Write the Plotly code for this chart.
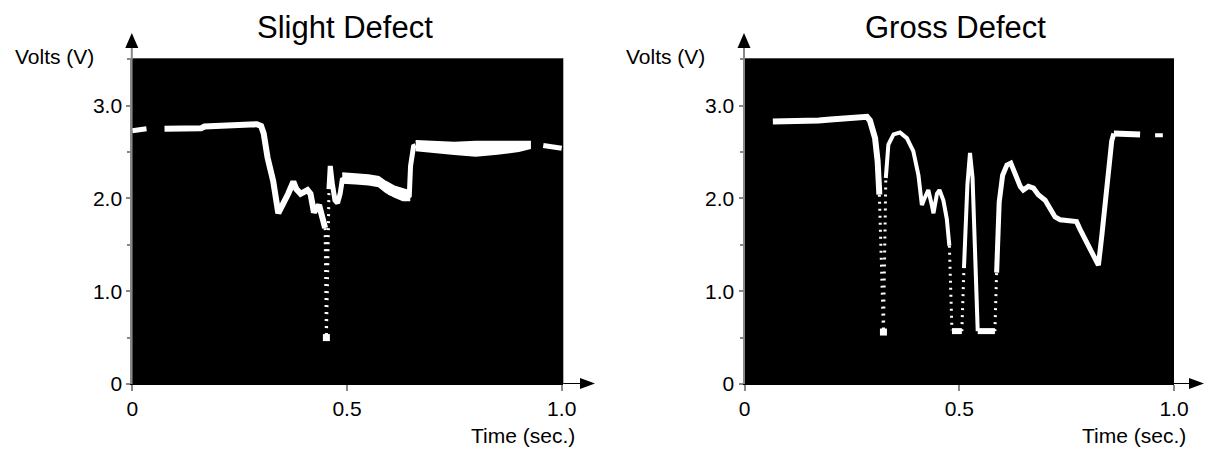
import plotly.graph_objects as go

W, H = 1205, 449

# ---------------- data: Slight Defect ----------------
sl_a_t = [0.0, 0.033]
sl_a_v = [2.73, 2.75]

sl_b_t = [0.075, 0.12, 0.16, 0.168, 0.22, 0.26, 0.29, 0.30, 0.306, 0.315, 0.328, 0.340,
          0.350, 0.363, 0.375, 0.382, 0.392, 0.408, 0.415, 0.423, 0.435, 0.443, 0.449]
sl_b_v = [2.75, 2.75, 2.755, 2.775, 2.78, 2.79, 2.80, 2.78, 2.70, 2.44, 2.19, 1.84,
          1.92, 2.05, 2.18, 2.10, 2.05, 2.09, 2.05, 1.85, 1.93, 1.80, 1.68]

sl_dot_t = [0.449, 0.4505, 0.452, 0.455, 0.458]
sl_dot_v = [1.68, 1.00, 0.50, 1.20, 2.10]

sl_c_t = [0.458, 0.461, 0.466, 0.472, 0.478, 0.484, 0.489, 0.50, 0.52, 0.55, 0.57, 0.58,
          0.60, 0.62, 0.636, 0.645, 0.648, 0.655, 0.66]
sl_c_v = [2.10, 2.35, 2.15, 1.98, 1.95, 2.05, 2.20, 2.22, 2.21, 2.20, 2.19, 2.14,
          2.06, 2.03, 2.00, 2.03, 2.35, 2.56, 2.57]

sl_band2_t = [0.489, 0.52, 0.55, 0.574, 0.59, 0.61, 0.63, 0.645]
sl_band2_hi = [2.27, 2.26, 2.25, 2.23, 2.18, 2.13, 2.10, 2.08]
sl_band2_lo = [2.17, 2.16, 2.15, 2.13, 2.07, 2.02, 1.98, 1.98]

sl_band_t = [0.66, 0.70, 0.75, 0.80, 0.85, 0.90, 0.926]
sl_band_hi = [2.62, 2.61, 2.60, 2.61, 2.61, 2.61, 2.61]
sl_band_lo = [2.52, 2.50, 2.48, 2.46, 2.48, 2.51, 2.54]

sl_d_t = [0.957, 1.0]
sl_d_v = [2.57, 2.54]

sl_min_t = [0.452]
sl_min_v = [0.50]

# ---------------- data: Gross Defect ----------------
gr_a_t = [0.066, 0.10, 0.173, 0.20, 0.245, 0.277, 0.285, 0.292, 0.299, 0.304, 0.310, 0.314]
gr_a_v = [2.83, 2.83, 2.84, 2.85, 2.87, 2.89, 2.88, 2.84, 2.74, 2.65, 2.40, 2.04]

gr_d1_t = [0.314, 0.3235, 0.329]
gr_d1_v = [2.04, 0.56, 2.22]

gr_b_t = [0.329, 0.335, 0.347, 0.362, 0.378, 0.393, 0.405, 0.413, 0.419, 0.428, 0.436, 0.440,
          0.448, 0.454, 0.463, 0.471, 0.477]
gr_b_v = [2.22, 2.58, 2.69, 2.71, 2.65, 2.51, 2.25, 1.93, 2.00, 2.09, 1.93, 1.84,
          2.05, 2.09, 1.98, 1.78, 1.49]

gr_d2_t = [0.477, 0.483]
gr_d2_v = [1.49, 0.58]

gr_flat1_t = [0.483, 0.506]
gr_flat1_v = [0.57, 0.57]

gr_d3_t = [0.506, 0.511]
gr_d3_v = [0.57, 1.25]

gr_c_t = [0.511, 0.514, 0.519, 0.525, 0.531, 0.535, 0.539, 0.543]
gr_c_v = [1.25, 1.60, 2.15, 2.49, 2.22, 1.67, 1.16, 0.57]

gr_flat2_t = [0.543, 0.583]
gr_flat2_v = [0.57, 0.57]

gr_d4_t = [0.583, 0.587]
gr_d4_v = [0.57, 1.20]

gr_e_t = [0.587, 0.593, 0.601, 0.611, 0.620, 0.630, 0.642, 0.649, 0.661, 0.673, 0.684, 0.700,
          0.711, 0.723, 0.735, 0.750, 0.773, 0.781, 0.789, 0.800, 0.812, 0.824, 0.832,
          0.839, 0.847, 0.855, 0.860]
gr_e_v = [1.20, 1.96, 2.25, 2.36, 2.38, 2.27, 2.13, 2.09, 2.13, 2.11, 2.04, 1.98,
          1.89, 1.80, 1.77, 1.76, 1.75, 1.67, 1.60, 1.51, 1.40, 1.28, 1.60,
          1.93, 2.29, 2.62, 2.70]

gr_top_t = [0.860, 0.890, 0.921]
gr_top_v = [2.70, 2.70, 2.69]

gr_f_t = [0.956, 0.974]
gr_f_v = [2.68, 2.68]

gr_min_t = [0.3235]
gr_min_v = [0.56]

y_tick_vals = [0, 1, 2, 3]
y_tick_text = ["0", "1.0", "2.0", "3.0"]
y_minor_vals = [0.5, 1.5, 2.5, 3.5]
x_tick_vals = [0, 0.5, 1.0]
x_tick_text = ["0", "0.5", "1.0"]
titles = ["Slight Defect", "Gross Defect"]

FONT = "Arial, Liberation Sans, sans-serif"
WHITE = "white"

fig = go.Figure()


def solid(t, v, xa, ya, width=5):
    fig.add_trace(go.Scatter(x=t, y=v, mode="lines", xaxis=xa, yaxis=ya,
                             line=dict(color=WHITE, width=width), showlegend=False,
                             hoverinfo="skip"))


def dotted(t, v, xa, ya):
    fig.add_trace(go.Scatter(x=t, y=v, mode="lines", xaxis=xa, yaxis=ya,
                             line=dict(color=WHITE, width=3, dash="2px,5px"),
                             showlegend=False, hoverinfo="skip"))


def band(t, lo, hi, xa, ya):
    fig.add_trace(go.Scatter(x=t + t[::-1], y=hi + lo[::-1], mode="lines", fill="toself",
                             fillcolor=WHITE, line=dict(color=WHITE, width=2),
                             xaxis=xa, yaxis=ya, showlegend=False, hoverinfo="skip"))


def blob(t, v, xa, ya):
    fig.add_trace(go.Scatter(x=t, y=v, mode="markers", xaxis=xa, yaxis=ya,
                             marker=dict(color=WHITE, size=7, symbol="square"),
                             showlegend=False, hoverinfo="skip"))


# Slight defect (left)
solid(sl_a_t, sl_a_v, "x", "y", 5)
solid(sl_b_t, sl_b_v, "x", "y", 6)
dotted(sl_dot_t, sl_dot_v, "x", "y")
solid(sl_c_t, sl_c_v, "x", "y", 5)
band(sl_band2_t, sl_band2_lo, sl_band2_hi, "x", "y")
band(sl_band_t, sl_band_lo, sl_band_hi, "x", "y")
solid(sl_d_t, sl_d_v, "x", "y", 5)
blob(sl_min_t, sl_min_v, "x", "y")

# Gross defect (right)
solid(gr_a_t, gr_a_v, "x2", "y2", 6)
dotted(gr_d1_t, gr_d1_v, "x2", "y2")
solid(gr_b_t, gr_b_v, "x2", "y2", 4)
dotted(gr_d2_t, gr_d2_v, "x2", "y2")
solid(gr_flat1_t, gr_flat1_v, "x2", "y2", 6)
dotted(gr_d3_t, gr_d3_v, "x2", "y2")
solid(gr_c_t, gr_c_v, "x2", "y2", 4)
solid(gr_flat2_t, gr_flat2_v, "x2", "y2", 6)
dotted(gr_d4_t, gr_d4_v, "x2", "y2")
solid(gr_e_t, gr_e_v, "x2", "y2", 5)
solid(gr_top_t, gr_top_v, "x2", "y2", 6)
solid(gr_f_t, gr_f_v, "x2", "y2", 4)
blob(gr_min_t, gr_min_v, "x2", "y2")

# ---------------- layout ----------------
def px(x):
    return x / W


def py(y):
    return 1 - y / H


panels = [
    dict(x0=132.3, x1=563.3, xmax=1.0037, title_x=345, volts_x=54, time_r=577, arrow_x=595),
    dict(x0=744.5, x1=1174.0, xmax=1.0, title_x=955, volts_x=665, time_r=1188, arrow_x=1204),
]
top, bottom = 58.3, 384.0

axis_font = dict(family=FONT, size=21, color="black")
layout = dict(width=W, height=H, margin=dict(l=0, r=0, t=0, b=0, pad=0),
              paper_bgcolor="white", plot_bgcolor="black", showlegend=False,
              font=dict(family=FONT, color="black"))

shapes = []
annotations = []
for i, p in enumerate(panels):
    sx = "" if i == 0 else "2"
    layout["xaxis" + sx] = dict(domain=[px(p["x0"]), px(p["x1"])], range=[0, p["xmax"]],
                                anchor="y" + sx, showgrid=False, zeroline=False,
                                showline=True, linecolor="black", linewidth=1,
                                ticks="outside", ticklen=6, tickcolor="#888", tickwidth=2,
                                tickvals=x_tick_vals, ticktext=x_tick_text,
                                tickfont=axis_font, automargin=False, fixedrange=True)
    layout["yaxis" + sx] = dict(domain=[py(bottom), py(top)], range=[0, 3.51],
                                anchor="x" + sx, showgrid=False, zeroline=False,
                                showline=True, linecolor="#888", linewidth=2,
                                ticks="outside", ticklen=4, tickcolor="#888", tickwidth=1.5,
                                tickvals=y_tick_vals, ticktext=y_tick_text,
                                minor=dict(tickvals=y_minor_vals, ticks="outside", ticklen=3,
                                           tickcolor="#888", tickwidth=1.5),
                                tickfont=axis_font, automargin=False, fixedrange=True)
    ax = p["x0"] - 0.5
    # y axis extension + arrow
    shapes.append(dict(type="line", xref="paper", yref="paper", x0=px(ax), x1=px(ax),
                       y0=py(top), y1=py(47), line=dict(color="#888", width=2)))
    shapes.append(dict(type="path", xref="paper", yref="paper",
                       path=f"M {px(ax-6.5)} {py(48)} L {px(ax+6.5)} {py(48)} L {px(ax)} {py(33)} Z",
                       fillcolor="black", line=dict(width=0)))
    # x axis extension + arrow
    shapes.append(dict(type="line", xref="paper", yref="paper", x0=px(p["x1"]),
                       x1=px(p["arrow_x"] - 14), y0=py(bottom - 0.5), y1=py(bottom - 0.5),
                       line=dict(color="black", width=1)))
    shapes.append(dict(type="path", xref="paper", yref="paper",
                       path=(f"M {px(p['arrow_x']-15)} {py(bottom-6)} "
                             f"L {px(p['arrow_x'])} {py(bottom-0.5)} "
                             f"L {px(p['arrow_x']-15)} {py(bottom+5)} Z"),
                       fillcolor="black", line=dict(width=0)))
    annotations.append(dict(text=titles[i], xref="paper", yref="paper", x=px(p["title_x"]),
                            y=py(27), xanchor="center", yanchor="middle", showarrow=False,
                            font=dict(family=FONT, size=31, color="black")))
    annotations.append(dict(text="Volts (V)", xref="paper", yref="paper", x=px(p["volts_x"]),
                            y=py(56), xanchor="center", yanchor="middle", showarrow=False,
                            font=dict(family=FONT, size=21, color="black")))
    annotations.append(dict(text="Time (sec.)", xref="paper", yref="paper", x=px(p["time_r"]),
                            y=py(435), xanchor="right", yanchor="middle", showarrow=False,
                            font=dict(family=FONT, size=21, color="black")))

layout["shapes"] = shapes
layout["annotations"] = annotations
fig.update_layout(**layout)

fig.write_html("out.html", config={"displayModeBar": False},
               post_script="document.body.style.margin='0';document.body.style.overflow='hidden';")
